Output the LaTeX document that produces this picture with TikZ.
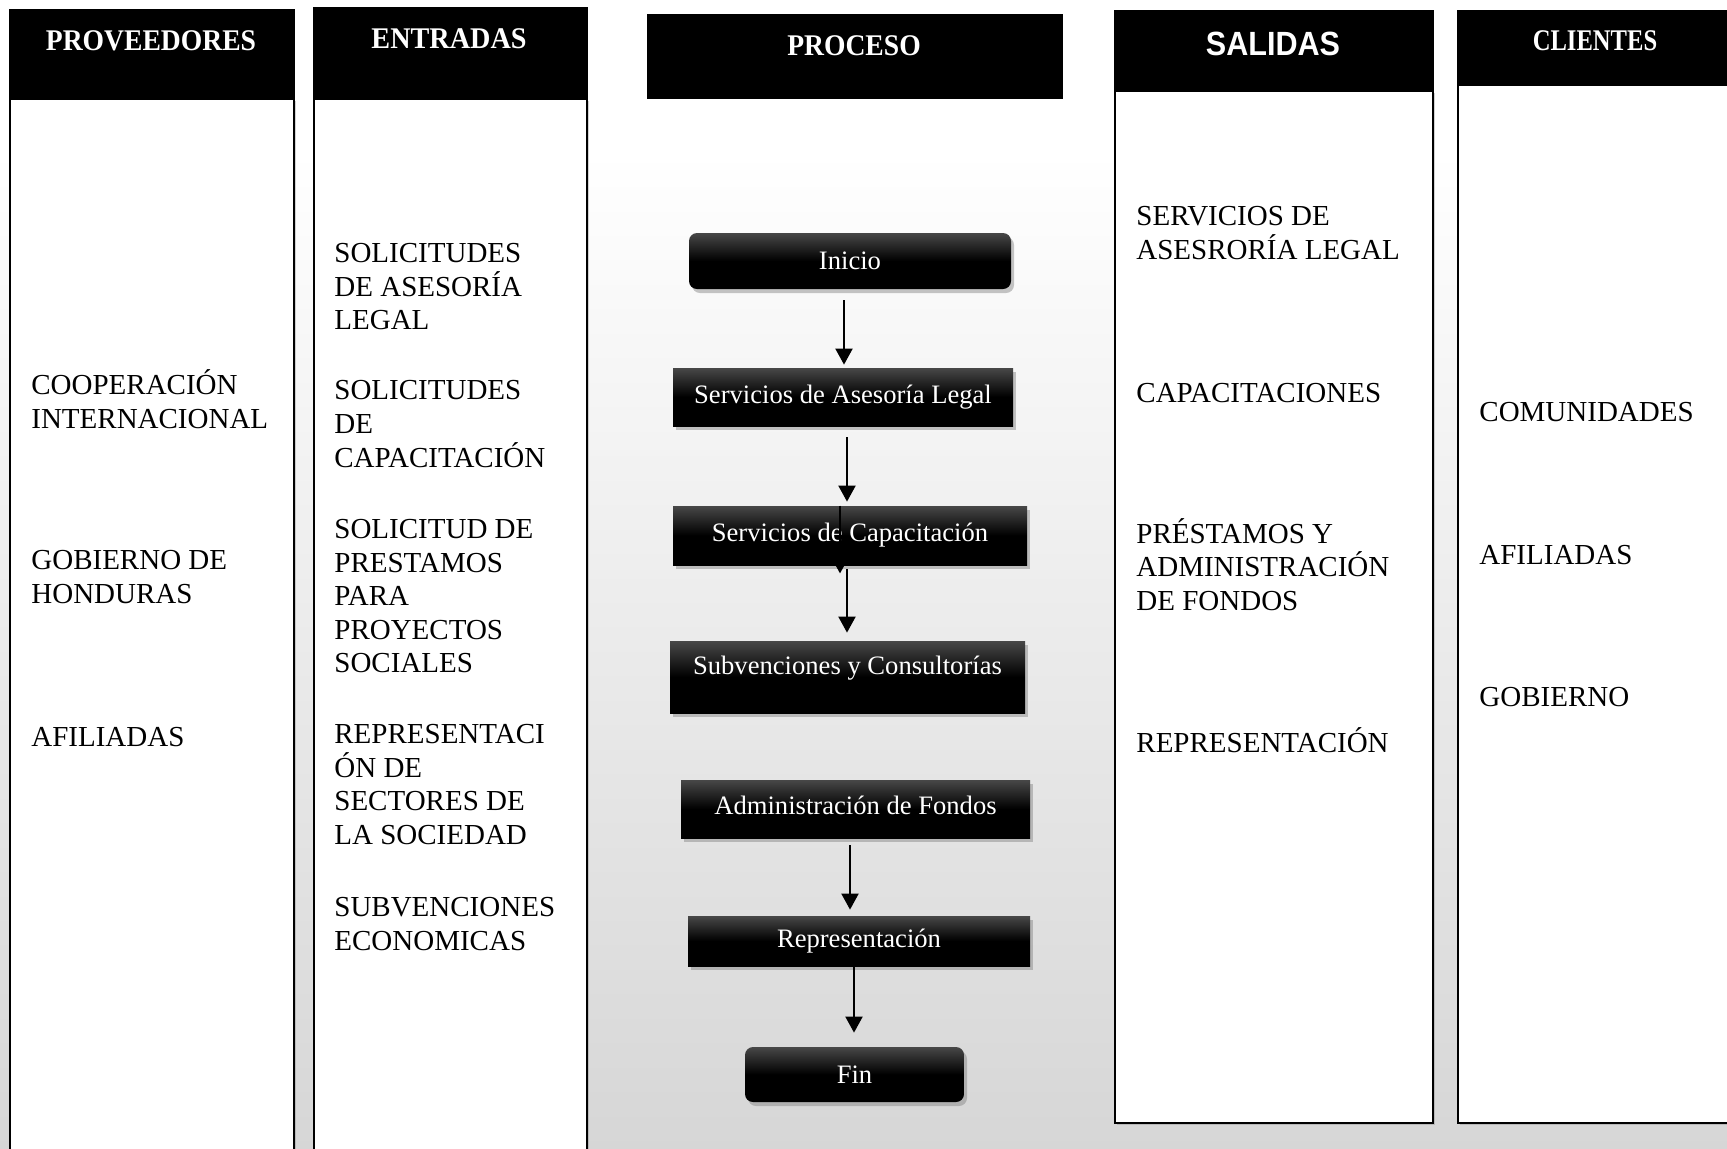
\documentclass[tikz,border=0pt]{standalone}
\usepackage{fontspec}
\usepackage{graphicx}
\setmainfont{Liberation Serif}
\newfontfamily\hsans{Liberation Sans}
\usetikzlibrary{shadows,arrows.meta,calc}
\newcommand{\fl}{\rule{0pt}{14pt}}
\begin{document}
\begin{tikzpicture}[x=0.5pt,y=-0.5pt,
  colbody/.style={draw=black, line width=1pt, fill=white, drop shadow={shadow xshift=1pt, shadow yshift=-1pt, opacity=0.35}},
  colhead/.style={fill=black},
  htext/.style={text=white, font=\fontsize{15}{18}\selectfont\bfseries, inner sep=0pt},
  btext/.style={anchor=north west, inner sep=0pt, align=left, font=\fontsize{14.5}{16.8}\selectfont},
  pbox/.style={rectangle, top color=black!72, bottom color=black, middle color=black, text=white,
    font=\fontsize{13.3}{16}\selectfont, inner sep=0pt,
    drop shadow={shadow xshift=1.5pt, shadow yshift=-2pt, opacity=0.45}},
  rbox/.style={pbox, rounded corners=4pt},
  arr/.style={line width=1pt, -{Triangle[width=8.5pt,length=8pt]}}
]
\useasboundingbox (0,0) rectangle (1727,1148);
\clip (0,0) rectangle (1727,1148);
% background
\fill[white] (0,0) rectangle (1727,1148);
\fill[top color=white, bottom color=black!16] (0,150) rectangle (1727,1148);

% column bodies
\path[colbody] (10,99) rectangle (294,1170);
\path[colbody] (314,99) rectangle (587,1170);
\path[colbody] (1115,91) rectangle (1433,1123);
\path[colbody] (1458,85) rectangle (1760,1123);

% headers
\fill[colhead] (9,9) rectangle (295,99);
\fill[colhead] (313,7) rectangle (588,99);
\fill[colhead] (647,14) rectangle (1063,99);
\fill[colhead] (1114,10) rectangle (1434,91);
\fill[colhead] (1457,10) rectangle (1760,85);

\node[htext] (hprov) at (151,41) {\scalebox{0.92}[1]{PROVEEDORES}};
\node[htext] (hent) at (449,39) {\scalebox{0.94}[1]{ENTRADAS}};
\node[htext] (hproc) at (854,46) {\scalebox{0.92}[1]{PROCESO}};
\node[htext, font=\hsans\fontsize{16.8}{19}\selectfont\bfseries] (hsal) at (1273,44) {\scalebox{0.91}[1]{SALIDAS}};
\node[htext] (hcli) at (1595,41) {\scalebox{0.82}[1]{CLIENTES}};

% proveedores
\node[btext] (p1) at (31,366) {\fl COOPERACIÓN\\INTERNACIONAL};
\node[btext] (p2) at (31,541) {\fl GOBIERNO DE\\HONDURAS};
\node[btext] (p3) at (31,718) {\fl AFILIADAS};

% entradas
\node[btext] (e1) at (334,234) {\fl SOLICITUDES\\DE ASESORÍA\\LEGAL};
\node[btext] (e2) at (334,371.5) {\fl SOLICITUDES\\DE\\CAPACITACIÓN};
\node[btext] (e3) at (334,510) {\fl SOLICITUD DE\\PRESTAMOS\\PARA\\PROYECTOS\\SOCIALES};
\node[btext] (e4) at (334,715) {\fl REPRESENTACI\\ÓN DE\\SECTORES DE\\LA SOCIEDAD};
\node[btext] (e5) at (334,888) {\fl SUBVENCIONES\\ECONOMICAS};

% salidas
\node[btext] (s1) at (1136,197.5) {\fl SERVICIOS DE\\ASESRORÍA LEGAL};
\node[btext] (s2) at (1136,373.7) {\fl CAPACITACIONES};
\node[btext] (s3) at (1136,514.7) {\fl PRÉSTAMOS Y\\ADMINISTRACIÓN\\DE FONDOS};
\node[btext] (s4) at (1136,724) {\fl REPRESENTACIÓN};

% clientes
\node[btext] (c1) at (1479,393.5) {\fl COMUNIDADES};
\node[btext] (c2) at (1479,535.6) {\fl AFILIADAS};
\node[btext] (c3) at (1479,677.7) {\fl GOBIERNO};

% process boxes
\node[rbox, minimum width=161pt, minimum height=28pt] (inicio) at (850,261) {Inicio};
\node[pbox, minimum width=170pt, minimum height=29pt] (ases) at (843,397) {Servicios de Asesoría Legal};
\node[pbox, minimum width=177pt, minimum height=29.5pt] (capa) at (850,535.5) {Servicios de Capacitación};
\node[pbox, minimum width=177.5pt, minimum height=36pt, text depth=12pt] (subv) at (847.5,677) {Subvenciones y Consultorías};
\node[pbox, minimum width=174.5pt, minimum height=29pt, text depth=4pt] (admin) at (855.5,809) {Administración de Fondos};
\node[pbox, minimum width=171pt, minimum height=25pt] (repr) at (859,941) {Representación};
\node[rbox, minimum width=109.5pt, minimum height=27.5pt] (fin) at (854.5,1074.5) {Fin};

% arrows
\coordinate (a1) at ([xshift=-3pt,yshift=-5.5pt]inicio.south);
\draw[arr, shorten >=1.5pt] (a1) -- (a1 |- ases.north);
\coordinate (a2) at ([xshift=2pt,yshift=-5.5pt]ases.south);
\draw[arr, shorten >=2pt] (a2) -- (a2 |- capa.north);
\draw[arr] ([xshift=-5pt]capa.north) -- ([xshift=-5pt,yshift=-4pt]capa.south);
\coordinate (a3) at ([xshift=-1.5pt,yshift=-2pt]capa.south);
\draw[arr, shorten >=4pt] (a3) -- (a3 |- subv.north);
\coordinate (a4) at ([xshift=-2.75pt,yshift=-3.5pt]admin.south);
\draw[arr, shorten >=3pt] (a4) -- (a4 |- repr.north);
\coordinate (a5) at ([xshift=-2.5pt]repr.south);
\draw[arr, shorten >=7pt] (a5) -- (a5 |- fin.north);
\end{tikzpicture}
\end{document}
